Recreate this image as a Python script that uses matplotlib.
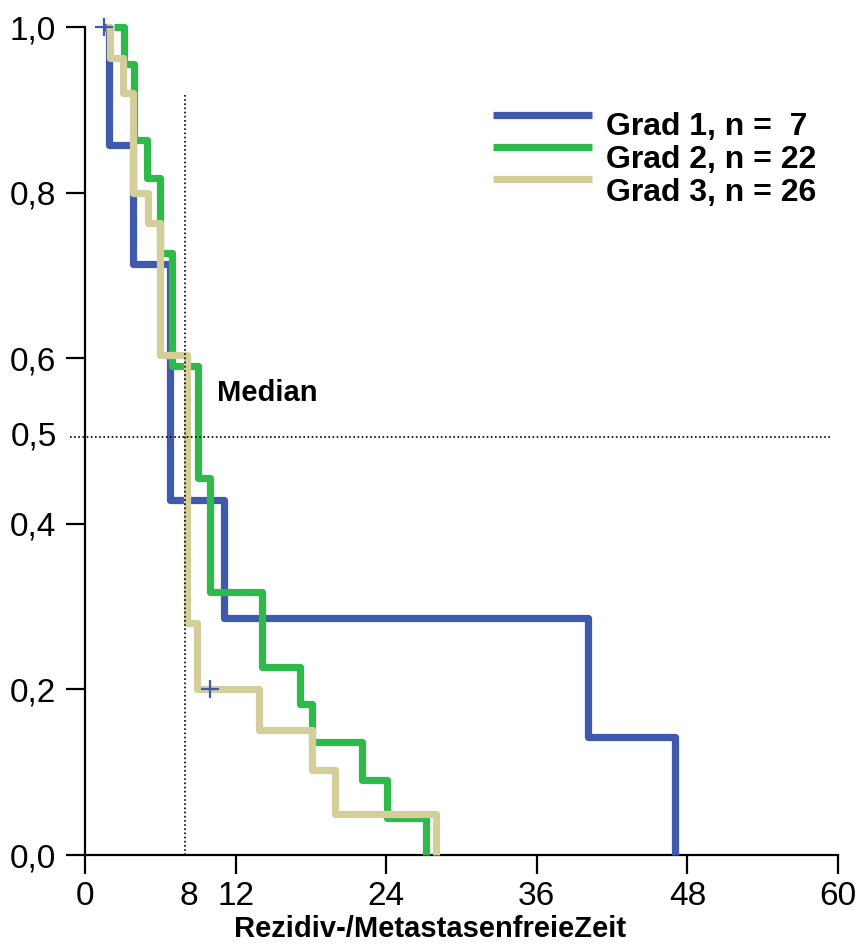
import matplotlib
matplotlib.use("Agg")
import matplotlib.pyplot as plt

plt.rcParams['font.family'] = ['Liberation Sans', 'DejaVu Sans']

# ---- data ----
t_grad1 = [1.4, 1.9, 3.8, 6.8, 11.1, 40.1, 47.0]
s_grad1 = [1.0, 0.857, 0.714, 0.429, 0.286, 0.143, 0.0]

t_grad2 = [2.3, 3.1, 3.9, 4.95, 6.0, 6.9, 9.0, 9.96, 14.1, 17.1, 18.1, 22.1, 24.1, 27.2]
s_grad2 = [1.0, 0.955, 0.864, 0.818, 0.727, 0.591, 0.455, 0.318, 0.227, 0.182, 0.136, 0.091, 0.045, 0.0]

t_grad3 = [1.7, 2.0, 3.0, 3.8, 5.0, 6.0, 8.1, 8.9, 13.9, 18.1, 19.9, 28.0]
s_grad3 = [1.0, 0.962, 0.92, 0.80, 0.763, 0.604, 0.28, 0.20, 0.151, 0.103, 0.05, 0.0]

censor_t = [1.5, 9.96]
censor_s = [1.0, 0.20]

labels = ["Grad 1, n =  7", "Grad 2, n = 22", "Grad 3, n = 26"]
colors = ["#3F5AAD", "#2EBA4A", "#D4CF9A"]

median_t = 8
median_s = 0.505

xticks = [0, 12, 24, 36, 48, 60]
yticks = [0.0, 0.2, 0.4, 0.6, 0.8, 1.0]
ytick_labels = ["0,0", "0,2", "0,4", "0,6", "0,8", "1,0"]

W, H = 864, 947

# ---- figure ----
fig = plt.figure(figsize=(W/100, H/100), dpi=100)
ax = fig.add_axes([85/W, 1-855/H, (838-85)/W, (855-27)/H])

lw = 5.2
for t, s, c in zip([t_grad1, t_grad2, t_grad3], [s_grad1, s_grad2, s_grad3], colors):
    ax.step(t, s, where='post', color=c, lw=lw, clip_on=False,
            solid_joinstyle='round', solid_capstyle='butt', zorder=3)

ax.plot(censor_t, censor_s, ls='none', marker='+', ms=13, mew=1.6,
        color=colors[0], clip_on=False, zorder=5)

# median lines
ax.plot([median_t, median_t], [0, 0.92], color='black', lw=1.2, ls=(0, (1, 1.5)), zorder=6, clip_on=False)
ax.plot([-1.2, 59.5], [median_s, median_s], color='black', lw=1.2, ls=(0, (1, 1.5)), zorder=6, clip_on=False)
ax.text(10.5, 0.558, "Median", fontsize=21, fontweight='bold', va='center', ha='left')

ax.set_xlim(0, 60)
ax.set_ylim(0, 1)
for sp in ['top', 'right']:
    ax.spines[sp].set_visible(False)
for sp in ['left', 'bottom']:
    ax.spines[sp].set_linewidth(1.6)

ax.set_xticks(xticks)
ax.set_xticklabels([str(v) for v in xticks])
ax.set_yticks(yticks)
ax.set_yticklabels(ytick_labels)
ax.tick_params(axis='both', direction='out', length=14, width=1.6, labelsize=24)
ax.tick_params(axis='x', pad=5)
ax.tick_params(axis='y', pad=7)

# extra labels without ticks
ax.text(8.3, -0.05, "8", fontsize=24, ha='center', va='center', clip_on=False)
ax.text(-2.2, median_s, "0,5", fontsize=24, ha='right', va='center', clip_on=False)

fig.text(430/W, 1-929/H, "Rezidiv-/MetastasenfreieZeit", fontsize=21,
         fontweight='bold', ha='center', va='center')

# legend drawn in figure pixels
line_y = [115, 147, 179]
text_base = [135, 168, 201]
for c, lab, ly, tb in zip(colors, labels, line_y, text_base):
    fig.add_artist(plt.Line2D([493/W, 592/W], [1-ly/H, 1-ly/H], color=c, lw=lw,
                              solid_capstyle='butt', transform=fig.transFigure))
    fig.text(606/W, 1-tb/H, lab, fontsize=23, fontweight='bold', ha='left', va='baseline')

fig.savefig("out.png", dpi=100)
